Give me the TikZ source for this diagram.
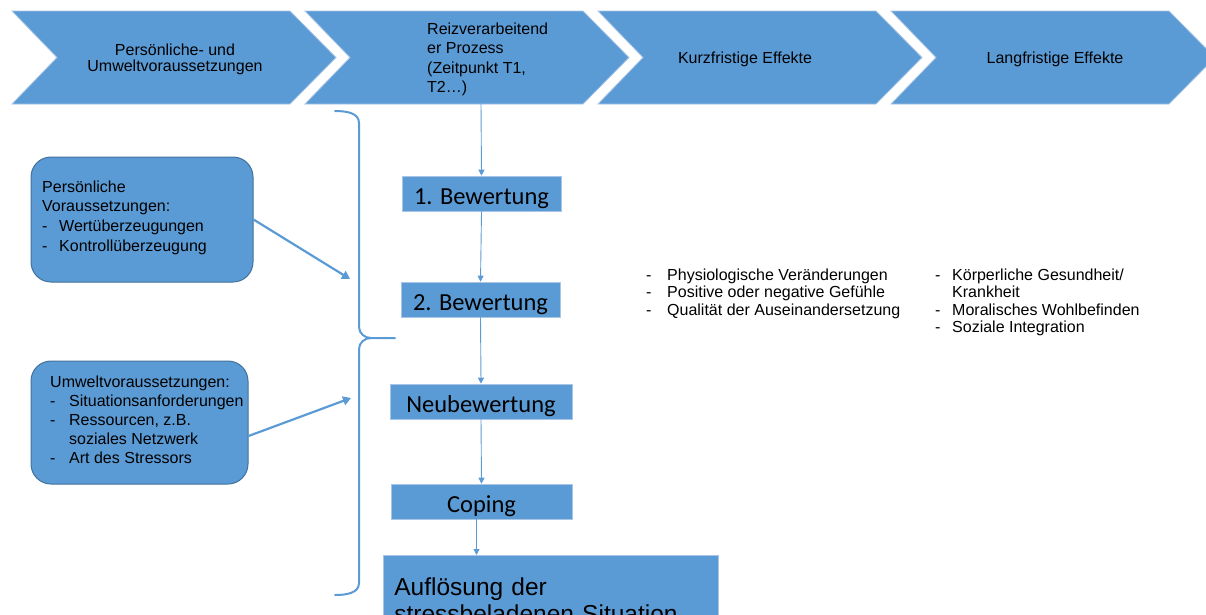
\documentclass[tikz,border=0pt]{standalone}
\usepackage{fontspec}
\setmainfont{Liberation Sans}
\newfontfamily\calibrifont{Carlito}
\usetikzlibrary{arrows.meta}
\definecolor{cblue}{HTML}{5B9BD5}
\definecolor{cdark}{HTML}{41719C}
\definecolor{cedge}{HTML}{A9C5E6}
\newcommand\lidash[1]{\makebox[#1][l]{-}}
\begin{document}
\begin{tikzpicture}[x=1pt,y=-1pt,
  chev/.style={fill=cblue, draw=cedge, line width=0.8pt},
  htext/.style={inner sep=0pt, font=\fontsize{16}{16}\selectfont},
  rbox/.style={fill=cblue, draw=cdark, line width=1pt, rounded corners=20pt, inner sep=0pt},
  ltext/.style={inner sep=0pt, align=left, anchor=north west},
  pbox/.style={fill=cblue, draw=cedge, line width=0.6pt, inner sep=0pt, minimum height=35pt, text height=21pt, text depth=0pt, font=\calibrifont\fontsize{24.5}{28}\selectfont},
  thinarr/.style={draw=cblue, line width=0.9pt, -{Triangle[length=6pt,width=6pt]}},
  thickarr/.style={draw=cblue, line width=2.2pt, -{Triangle[length=8pt,width=9pt]}},
  bracestyle/.style={draw=cblue, line width=2pt, line join=round, line cap=round}
]
\useasboundingbox (0,0) rectangle (1206,614);
\clip (0,0) rectangle (1206,614);

% header chevrons
\foreach \i in {0,...,3} {
  \pgfmathsetmacro\xo{12+293*\i}
  \draw[chev] (\xo,11) -- ++(278,0) -- ++(46,46.5) -- ++(-46,46.5) -- ++(-278,0) -- ++(45,-46.5) -- cycle;
}
\node[htext, align=center, anchor=north] (h1) at (175,43.3) {Persönliche- und\\Umweltvoraussetzungen};
\node[htext, align=left, anchor=north west, font=\fontsize{16}{19.5}\selectfont] (h2) at (427,22.3) {Reizverarbeitend\\er Prozess\\(Zeitpunkt T1,\\T2…)};
\node[htext, anchor=base] (h3) at (745,63) {Kurzfristige Effekte};
\node[htext, anchor=base] (h4) at (1055,63) {Langfristige Effekte};
\coordinate (c2b) at (481,104);

% left rounded boxes
\node[rbox, minimum width=222pt, minimum height=125pt] (pers) at (142,219.5) {};
\node[ltext, font=\fontsize{16}{19.7}\selectfont] (perst) at (42,180.3)
  {Persönliche\\Voraussetzungen:\\\lidash{17pt}Wertüberzeugungen\\\lidash{17pt}Kontrollüberzeugung};
\node[rbox, minimum width=217pt, minimum height=123pt] (umw) at (139.5,422.5) {};
\node[ltext, font=\fontsize{16}{19.2}\selectfont] (umwt) at (50,375.3)
  {Umweltvoraussetzungen:\\\lidash{19pt}Situationsanforderungen\\\lidash{19pt}Ressourcen, z.B.\\\hspace*{19pt}soziales Netzwerk\\\lidash{19pt}Art des Stressors};

% brace
\draw[bracestyle] (335,111) to[out=0,in=90] (359,123) -- (359,327) to[out=-90,in=180] (371,338) -- (395,338);
\draw[bracestyle] (371,338) to[out=180,in=90] (359,349) -- (359,583) to[out=-90,in=0] (335,595);
\coordinate (pa) at (350,279);
\coordinate (ua) at (351,398);
\draw[thickarr] (pers.east) -- (pa);
\draw[thickarr] ([yshift=-13.5pt]umw.east) -- (ua);

% process boxes
\node[pbox, minimum width=159pt] (b1) at (481.5,193.5) {1. Bewertung};
\node[pbox, minimum width=159pt] (b2) at (480.5,299.5) {2. Bewertung};
\node[pbox, minimum width=182pt] (neu) at (481,401.5) {Neubewertung};
\node[pbox, minimum width=181pt] (cop) at (481.5,501.5) {Coping};
\node[fill=cblue, draw=cedge, line width=0.6pt, anchor=north west, text width=313pt, inner xsep=11pt, inner ysep=12pt, minimum height=90pt, align=left, font=\fontsize{24.5}{27}\selectfont] (aufl) at (383,555) {Auflösung der\\stressbeladenen Situation};

\draw[thinarr] (c2b) -- (b1.north);
\draw[thinarr] (b1.south) -- (b2.north);
\draw[thinarr] (b2.south) -- (neu.north);
\draw[thinarr] (neu.south) -- (cop.north);
\draw[thinarr] ([xshift=-5pt]cop.south) -- ([xshift=-5pt]cop.south |- aufl.north);

% effect lists
\node[ltext, font=\fontsize{16}{17.6}\selectfont] (kurz) at (646,268.3)
  {\lidash{21pt}Physiologische Veränderungen\\\lidash{21pt}Positive oder negative Gefühle\\\lidash{21pt}Qualität der Auseinandersetzung};
\node[ltext, font=\fontsize{16}{17.6}\selectfont] (lang) at (935,268.3)
  {\lidash{17pt}Körperliche Gesundheit/\\\hspace*{17pt}Krankheit\\\lidash{17pt}Moralisches Wohlbefinden\\\lidash{17pt}Soziale Integration};
\end{tikzpicture}
\end{document}
